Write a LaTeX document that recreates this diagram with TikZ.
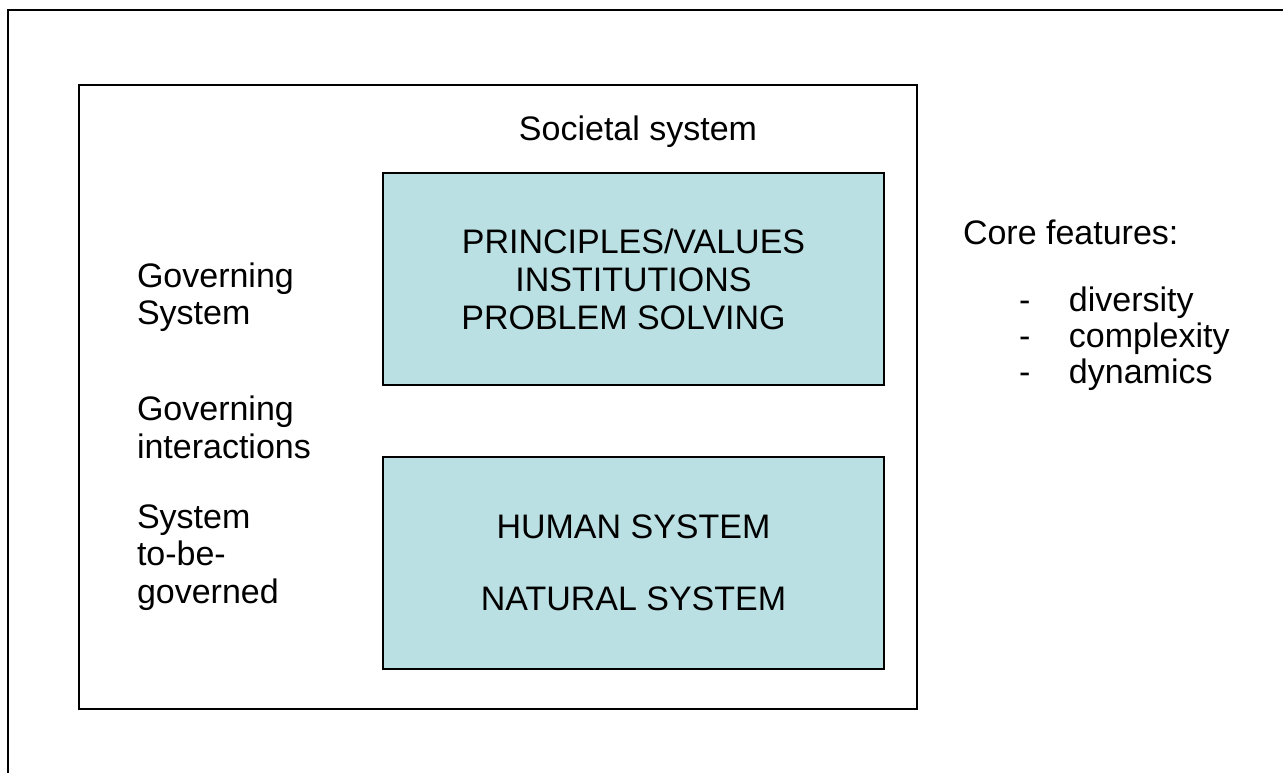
\documentclass[tikz,border=0pt]{standalone}
\usepackage{fontspec}
\setmainfont{Liberation Sans}
\usetikzlibrary{positioning}
\definecolor{paleblue}{RGB}{187,224,227}

\begin{document}
\begin{tikzpicture}[x=0.5pt, y=-0.5pt, line width=1pt, font=\fontsize{17}{18.75}\selectfont,
        frame/.style = {draw, minimum width=419pt, minimum height=312pt},
        box/.style = {draw, fill=paleblue, align=center, minimum width=250.5pt, minimum height=106pt},
        txt/.style = {inner sep=0pt, align=left}]
            \clip (0,0) rectangle (1283,772);
            \draw (8,10) rectangle (1300,790);
            \node[frame] (soc) at (498,397) {};
            \node[box, font=\fontsize{17}{19}\selectfont] (gov) at (633.5,279) {PRINCIPLES/VALUES\\INSTITUTIONS\\PROBLEM SOLVING\hspace*{10pt}};
            \node[box] (tbg) at (633.5,562.5) {HUMAN SYSTEM\\[17.25pt]NATURAL SYSTEM};
            \node[txt, anchor=base] (title) at (638,140) {Societal system};
            \node[txt, anchor=west] (gs) at (136,297) {Governing\\System};
            \node[txt, anchor=west] (gi) at (136,427.5) {Governing\\interactions};
            \node[txt, anchor=west] (sg) at (136,557.5) {System\\to-be-\\governed};
            \node[txt, anchor=base west] (core) at (962,244) {Core features:};
            \node[txt, anchor=west, font=\fontsize{17}{18}\selectfont] (feat) at (1018,339) {\makebox[25pt][l]{-}diversity\\\makebox[25pt][l]{-}complexity\\\makebox[25pt][l]{-}dynamics};
        \end{tikzpicture}
\end{document}
